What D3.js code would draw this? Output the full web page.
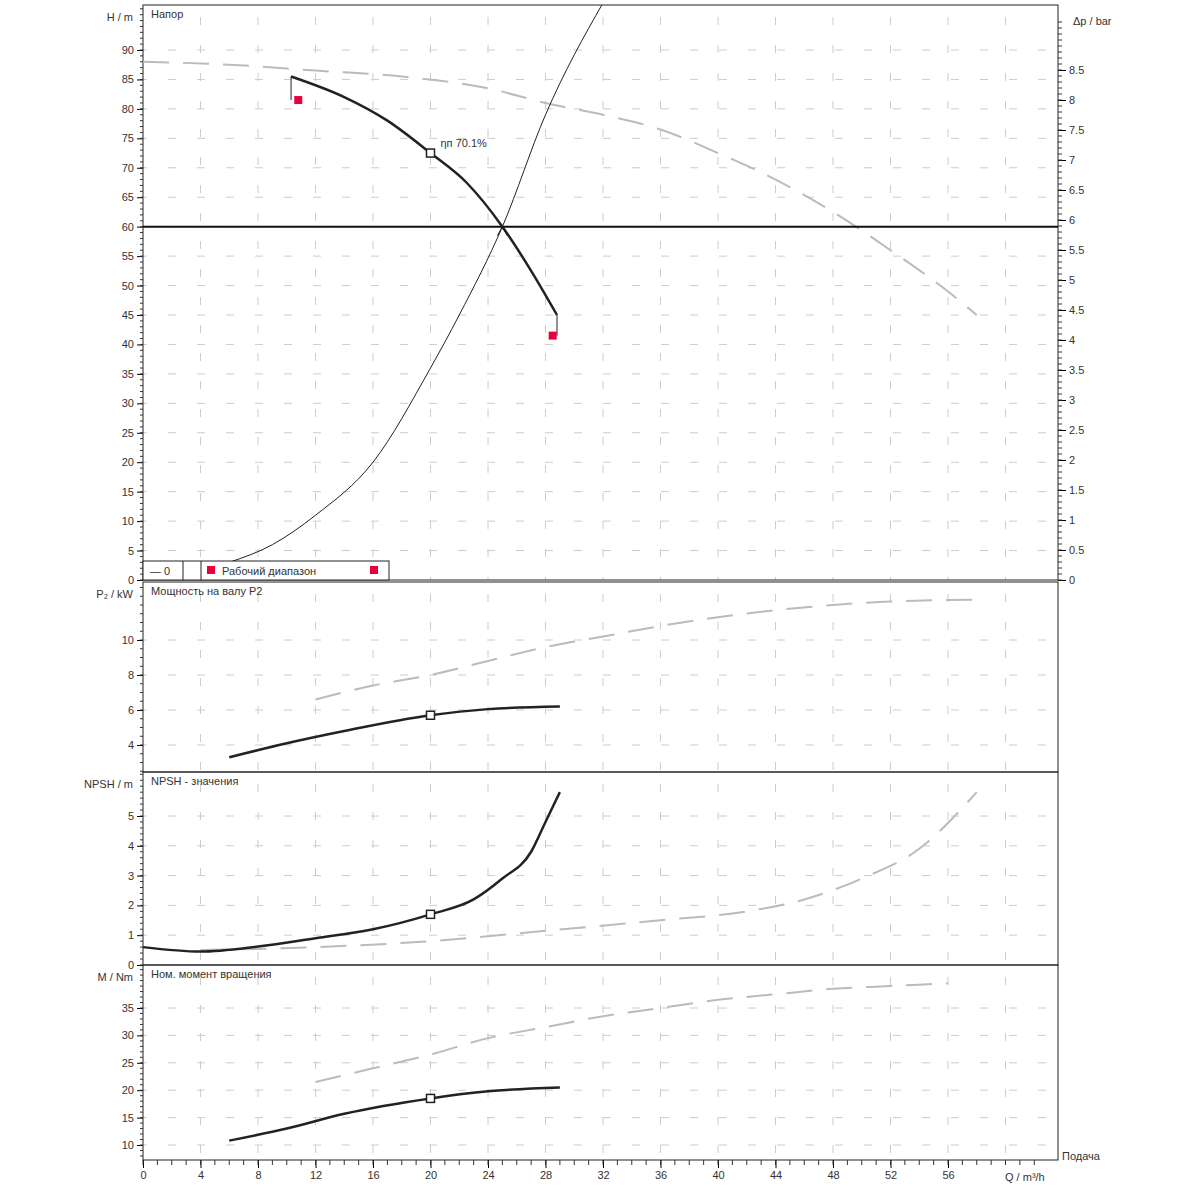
<!DOCTYPE html>
<html><head><meta charset="utf-8">
<script src="https://cdn.jsdelivr.net/npm/d3@7"></script>
<style>body{margin:0;background:#fff}text{font-family:"Liberation Sans",Arial,sans-serif;font-size:11px;fill:#333}</style>
</head><body><svg id="c" width="1200" height="1200"></svg>
<script>
// ---- data ----
const qTicks = [0,4,8,12,16,20,24,28,32,36,40,44,48,52,56];
const headWork = [[10.3,85.5],[14,82],[17,78],[20,72.5],[22.5,67.5],[25,60],[27,52.5],[28.8,45]];
const headMax = [[0,88],[6,87.5],[12,86.5],[18,85.5],[24,83.5],[28,81],[32,79],[36,76.5],[40,72.5],[44,68],[48,62.5],[52,56],[56,49],[58,45]];
const system = [[3,1],[6,3],[9,6],[12,11],[16,20],[20,36],[22,45],[25,60],[28,79],[32,98]];
const powerWork = [[6,3.3],[10,4.1],[14,4.8],[20,5.7],[24,6.05],[29,6.2]];
const powerMax = [[12,6.6],[16,7.4],[20,8.0],[24,8.8],[28,9.6],[32,10.2],[36,10.8],[40,11.3],[44,11.7],[48,12.0],[52,12.2],[58,12.3]];
const npshWork = [[0,0.6],[4,0.45],[8,0.62],[12,0.9],[16,1.2],[20,1.7],[23,2.2],[25,2.9],[27,3.8],[28,4.8],[29,5.8]];
const npshMax = [[4,0.5],[12,0.6],[20,0.8],[28,1.15],[36,1.5],[42,1.8],[46,2.2],[50,2.9],[54,3.9],[58,5.8]];
const torqueWork = [[6,10.8],[10,13],[14,15.7],[20,18.5],[24,19.8],[29,20.5]];
const torqueMax = [[12,21.5],[16,24],[20,26.5],[24,29.5],[28,31.5],[32,33.5],[36,35],[40,36.5],[44,37.5],[48,38.5],[52,39],[56,39.5]];
const duty = [20, 72.5, 5.7, 1.7, 18.5];
const opPoint = [25, 60];
const rangeMarks = [[10.8,81.5,85.5],[28.5,41.5,45]];
const panels = [
  {title:"Напор", label:"H / m", top:5, bottom:580, ticks:d3.range(0,95,5), minor:1},
  {title:"Мощность на валу P2", label:"P₂ / kW", top:582, bottom:772, ticks:[4,6,8,10], minor:0.5},
  {title:"NPSH - значения", label:"NPSH / m", top:772, bottom:965, ticks:[0,1,2,3,4,5], minor:0.2},
  {title:"Ном. момент вращения", label:"M / Nm", top:965, bottom:1160, ticks:[10,15,20,25,30,35], minor:1}
];
const barTicks = d3.range(0,8.75,0.5);

const svg = d3.select('#c');
const L = 143, R = 1058;
const x = d3.scaleLinear().domain([0,56]).range([L,948]);
const yH = d3.scaleLinear().domain([0,90]).range([580,50]);
const yBar = d3.scaleLinear().domain([0,8]).range([580,100]);
const yScales = [
  yH,
  d3.scaleLinear().domain([4,10]).range([745,640]),
  d3.scaleLinear().domain([0,5]).range([965,816]),
  d3.scaleLinear().domain([10,35]).range([1145,1008])
];
const line = ys => d3.line().x(d=>x(d[0])).y(d=>ys(d[1])).curve(d3.curveMonotoneX);

svg.append('clipPath').attr('id','clipH').append('rect').attr('x',L).attr('y',5).attr('width',R-L).attr('height',575);

panels.forEach((p,i) => {
  const ys = yScales[i];
  const g = svg.append('g');
  const [lo,hi] = [ys.invert(p.bottom), ys.invert(p.top)];
  // grid
  g.selectAll('.gx').data(qTicks.slice(1).concat([60])).join('line')
    .attr('x1',d=>x(d)).attr('x2',d=>x(d)).attr('y1',p.top).attr('y2',p.bottom)
    .attr('stroke','#ccc').attr('stroke-dasharray','8,20').attr('stroke-dashoffset',-12);
  g.selectAll('.gy').data(p.ticks.filter(t=>ys(t)<p.bottom-2)).join('line')
    .attr('x1',L).attr('x2',R).attr('y1',d=>ys(d)).attr('y2',d=>ys(d))
    .attr('stroke','#ccc').attr('stroke-dasharray','8,21').attr('stroke-dashoffset',-25);
  g.append('rect').attr('x',L).attr('y',p.top).attr('width',R-L).attr('height',p.bottom-p.top)
    .attr('fill','none').attr('stroke','#222');
  // left axis
  const ga = g.append('g').attr('transform',`translate(${L},0)`)
    .call(d3.axisLeft(ys).tickValues(p.ticks).tickSize(6).tickFormat(d3.format('~g')));
  ga.select('.domain').remove();
  ga.selectAll('text').style('font-size','11px');
  const minor = d3.range(Math.ceil(lo/p.minor)*p.minor, hi, p.minor);
  g.selectAll('.mn').data(minor).join('line').attr('x1',L-3).attr('x2',L).attr('y1',d=>ys(d)).attr('y2',d=>ys(d)).attr('stroke','#333');
  g.append('text').attr('x',L-10).attr('y',p.top+16).attr('text-anchor','end').text(p.label);
  g.append('text').attr('x',L+8).attr('y',p.top+13).text(p.title);
});

// right bar axis
const gb = svg.append('g').attr('transform',`translate(${R},0)`)
  .call(d3.axisRight(yBar).tickValues(barTicks).tickSize(8).tickFormat(d3.format('~g')));
gb.select('.domain').remove();
svg.selectAll('.bm').data(d3.range(0,9.4,0.1)).join('line').attr('x1',R).attr('x2',R+4)
  .attr('y1',d=>yBar(d)).attr('y2',d=>yBar(d)).attr('stroke','#333');
svg.append('text').attr('x',1073).attr('y',25).text('Δp / bar');

// bottom axis
const gx = svg.append('g').attr('transform','translate(0,1160)')
  .call(d3.axisBottom(x).tickValues(qTicks).tickSize(8).tickFormat(d3.format('d')));
gx.select('.domain').remove();
svg.selectAll('.xm').data(d3.range(0,63,1)).join('line').attr('x1',d=>x(d)).attr('x2',d=>x(d))
  .attr('y1',1160).attr('y2',1165).attr('stroke','#333');
svg.append('text').attr('x',1005).attr('y',1181).text('Q / m³/h');
svg.append('text').attr('x',1062).attr('y',1160).text('Подача');

// head panel curves
const hg = svg.append('g').attr('clip-path','url(#clipH)');
hg.append('path').attr('d',line(yH)(headMax)).attr('fill','none').attr('stroke','#bbb').attr('stroke-width',2).attr('stroke-dasharray','26,14');
hg.append('path').attr('d',line(yH)(system)).attr('fill','none').attr('stroke','#222').attr('stroke-width',1);
svg.append('line').attr('x1',L).attr('x2',R).attr('y1',yH(opPoint[1])).attr('y2',yH(opPoint[1])).attr('stroke','#111').attr('stroke-width',2);
svg.append('path').attr('d',line(yH)(headWork)).attr('fill','none').attr('stroke','#222').attr('stroke-width',2.5);
svg.append('path').attr('d',`M${x(opPoint[0])-5},${yH(opPoint[1])+9}L${x(opPoint[0])},${yH(opPoint[1])}L${x(opPoint[0])+5},${yH(opPoint[1])+9}`).attr('fill','none').attr('stroke','#111');
rangeMarks.forEach(([q,h,h0],i) => {
  const xl = i===0 ? x(headWork[0][0]) : x(headWork[headWork.length-1][0]);
  svg.append('line').attr('x1',xl).attr('x2',xl).attr('y1',yH(h0)).attr('y2',yH(h)).attr('stroke','#222');
  svg.append('rect').attr('x',x(q)-4).attr('y',yH(h)-4).attr('width',8).attr('height',8).attr('fill','#e8003d');
});
svg.append('text').attr('x',x(duty[0])+10).attr('y',yH(duty[1])-6).text('ηп    70.1%');

// other panels
[[powerMax,powerWork,1,2],[npshMax,npshWork,2,3],[torqueMax,torqueWork,3,4]].forEach(([mx,wk,i,di]) => {
  const ys = yScales[i];
  svg.append('path').attr('d',line(ys)(mx)).attr('fill','none').attr('stroke','#bbb').attr('stroke-width',2).attr('stroke-dasharray','26,14');
  svg.append('path').attr('d',line(ys)(wk)).attr('fill','none').attr('stroke','#222').attr('stroke-width',2.5);
  svg.append('rect').attr('x',x(duty[0])-4).attr('y',ys(duty[di])-4).attr('width',8).attr('height',8).attr('fill','#fff').attr('stroke','#222').attr('stroke-width',1.5);
});
svg.append('rect').attr('x',x(duty[0])-4).attr('y',yH(duty[1])-4).attr('width',8).attr('height',8).attr('fill','#fff').attr('stroke','#222').attr('stroke-width',1.5);

// legend box
const lg = svg.append('g');
lg.append('rect').attr('x',L).attr('y',561).attr('width',246).attr('height',19).attr('fill','#fff').attr('stroke','#222');
lg.append('line').attr('x1',183).attr('x2',183).attr('y1',561).attr('y2',580).attr('stroke','#222');
lg.append('line').attr('x1',201).attr('x2',201).attr('y1',561).attr('y2',580).attr('stroke','#222');
lg.append('text').attr('x',150).attr('y',575).text('— 0');
lg.append('rect').attr('x',207).attr('y',566).attr('width',8).attr('height',8).attr('fill','#e8003d');
lg.append('text').attr('x',222).attr('y',575).text('Рабочий диапазон');
lg.append('rect').attr('x',370).attr('y',566).attr('width',8).attr('height',8).attr('fill','#e8003d');
</script></body></html>
